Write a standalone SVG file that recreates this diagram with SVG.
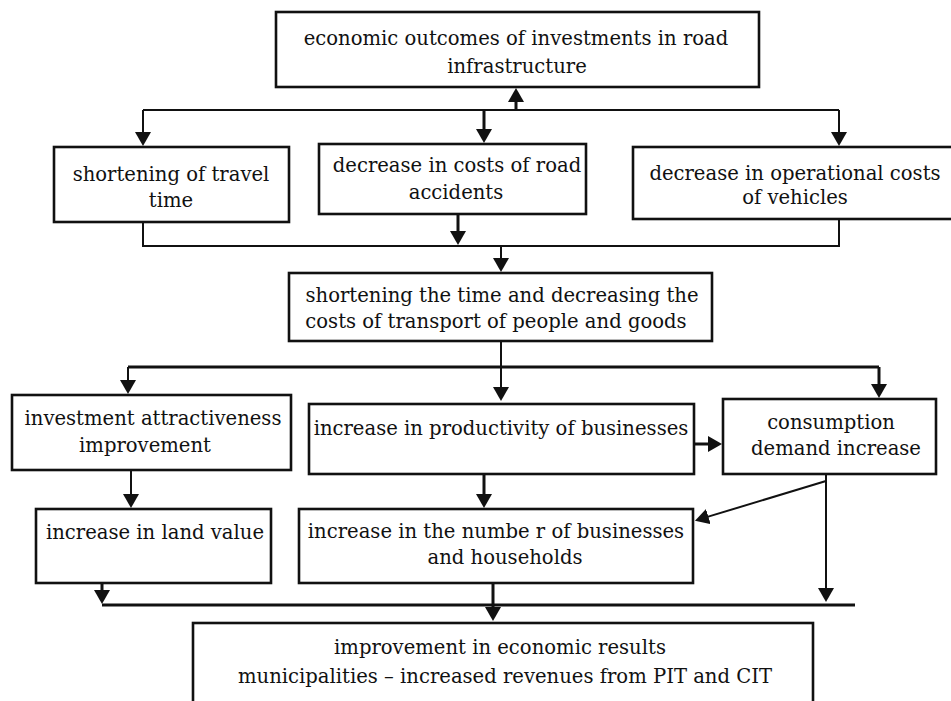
<svg xmlns="http://www.w3.org/2000/svg" width="951" height="701" viewBox="0 0 951 701">
<style>
.box{fill:#fff;stroke:#111;stroke-width:2.6}
.t{font-family:"DejaVu Serif","Liberation Serif",serif;font-size:19.6px;fill:#111;text-anchor:middle}
.c{fill:none;stroke:#111;stroke-width:2}
.k{fill:none;stroke:#111;stroke-width:3}
</style>
<defs>
<marker id="ah" viewBox="0 0 14 16" refX="1" refY="8" markerWidth="14" markerHeight="16" markerUnits="userSpaceOnUse" orient="auto">
<path d="M0,0 L14,8 L0,16 z" fill="#111"/>
</marker>
</defs>
<rect width="951" height="701" fill="#fff"/>
<g id="connectors">
<path class="c" d="M143,110 H839"/>
<path class="k" d="M516,110 V101" marker-end="url(#ah)"/>
<path class="c" d="M143,110 V133" marker-end="url(#ah)"/>
<path class="k" d="M484,110 V130" marker-end="url(#ah)"/>
<path class="c" d="M839,110 V133" marker-end="url(#ah)"/>
<path class="c" d="M143,222 V246 H839 V219"/>
<path class="k" d="M458,214 V232" marker-end="url(#ah)"/>
<path class="c" d="M501,246 V259" marker-end="url(#ah)"/>
<path class="c" d="M501,341 V388" marker-end="url(#ah)"/>
<path class="k" d="M128,367 H879"/>
<path class="c" d="M128,367 V381" marker-end="url(#ah)"/>
<path class="k" d="M879,367 V385" marker-end="url(#ah)"/>
<path class="k" d="M694,444 H709" marker-end="url(#ah)"/>
<path class="c" d="M131,470 V495" marker-end="url(#ah)"/>
<path class="k" d="M484,474 V495" marker-end="url(#ah)"/>
<path class="c" d="M826,474 V589" marker-end="url(#ah)"/>
<path class="c" d="M826,481 L707.4,516.9" marker-end="url(#ah)"/>
<path class="k" d="M102,583 V591" marker-end="url(#ah)"/>
<path class="k" d="M102,605 H855"/>
<path class="k" d="M493,583 V608" marker-end="url(#ah)"/>
</g>
<g id="n1">
<rect class="box" x="276" y="12" width="483" height="75"/>
<text class="t" x="516" y="45">economic outcomes of investments in road</text>
<text class="t" x="517" y="73">infrastructure</text>
</g>
<g id="n2">
<rect class="box" x="54" y="147" width="235" height="75"/>
<text class="t" x="171" y="181">shortening of travel</text>
<text class="t" x="171" y="207">time</text>
</g>
<g id="n3">
<rect class="box" x="319" y="144" width="267" height="70"/>
<text class="t" x="457" y="172">decrease in costs of road</text>
<text class="t" x="456" y="199">accidents</text>
</g>
<g id="n4">
<rect class="box" x="633" y="147" width="322" height="72"/>
<text class="t" x="795" y="180">decrease in operational costs</text>
<text class="t" x="795" y="204">of vehicles</text>
</g>
<g id="n5">
<rect class="box" x="289" y="273" width="423" height="68"/>
<text class="t" x="502" y="302">shortening the time and decreasing the</text>
<text class="t" x="496" y="328">costs of transport of people and goods</text>
</g>
<g id="n6">
<rect class="box" x="12" y="395" width="279" height="75"/>
<text class="t" x="153" y="425">investment attractiveness</text>
<text class="t" x="145" y="452">improvement</text>
</g>
<g id="n7">
<rect class="box" x="309" y="404" width="385" height="70"/>
<text class="t" x="501" y="435">increase in productivity of businesses</text>
</g>
<g id="n8">
<rect class="box" x="723" y="399" width="213" height="75"/>
<text class="t" x="831" y="429">consumption</text>
<text class="t" x="836" y="455">demand increase</text>
</g>
<g id="n9">
<rect class="box" x="36" y="509" width="235" height="74"/>
<text class="t" x="155" y="539">increase in land value</text>
</g>
<g id="n10">
<rect class="box" x="299" y="509" width="394" height="74"/>
<text class="t" x="496" y="538">increase in the numbe r of businesses</text>
<text class="t" x="505" y="564">and households</text>
</g>
<g id="n11">
<rect class="box" x="193" y="623" width="620" height="90"/>
<text class="t" x="500" y="654">improvement in economic results</text>
<text class="t" x="505" y="683">municipalities – increased revenues from PIT and CIT</text>
</g>
</svg>
